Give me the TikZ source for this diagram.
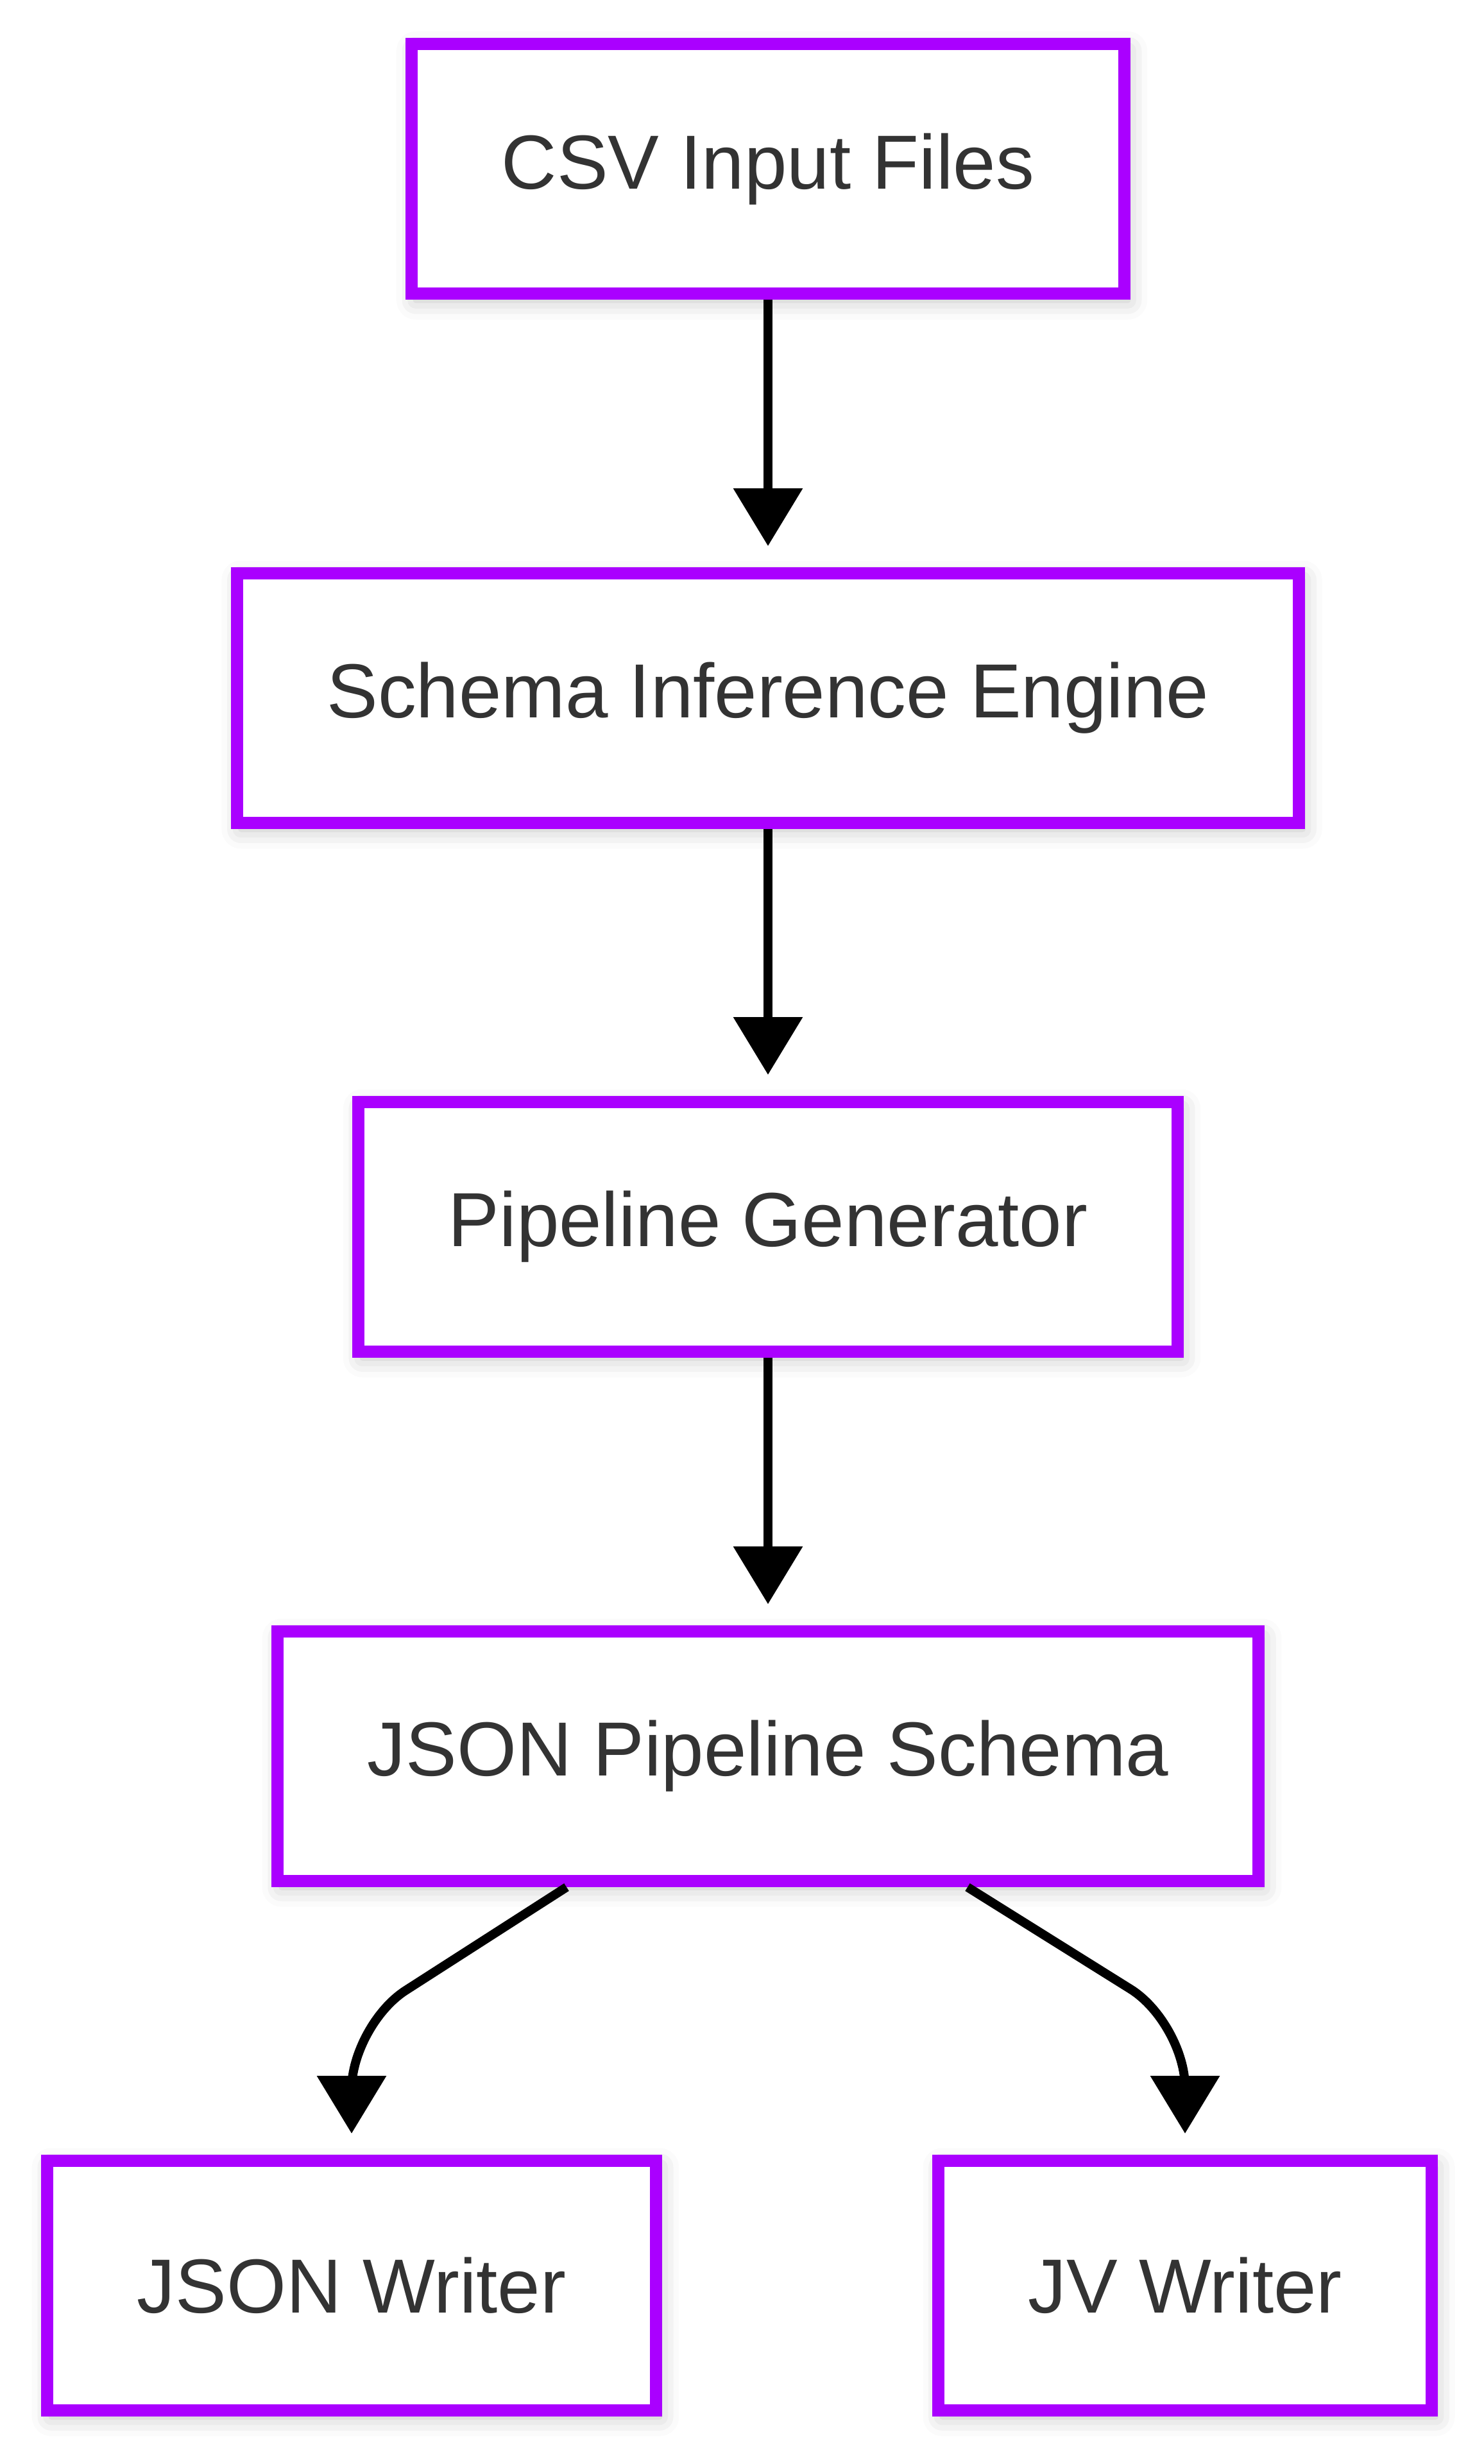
\documentclass[tikz,border=0pt]{standalone}
\usepackage{fontspec}
\setmainfont{Liberation Sans}
\usepackage{tikz}
\usetikzlibrary{arrows.meta,calc,positioning,shadows.blur}
\usepackage{xcolor}
\definecolor{boxpurple}{HTML}{AA00FF}
\definecolor{txtgray}{HTML}{333333}

\begin{document}
\begin{tikzpicture}[
    b/.style={rectangle,draw=boxpurple,fill=white,line width=1.9mm,text=txtgray,
      font=\fontsize{34}{40}\selectfont,inner xsep=14mm,minimum height=38.9mm,
      blur shadow={shadow xshift=.6mm,shadow yshift=-1mm,shadow blur radius=3mm,shadow opacity=25}},
    f/.style={-{Triangle[length=9mm,width=10.5mm]},line width=1.4mm,black,shorten >=3.3mm}
  ]
    \useasboundingbox (0,0) rectangle (23.13,-38.4);
    \node[b] (csv) at (11.97,-2.635) {CSV Input Files};
    \node[b] (infer) at (11.97,-10.88) {Schema Inference Engine};
    \node[b] (gen) at (11.97,-19.12) {Pipeline Generator};
    \node[b] (schema) at (11.97,-27.37) {JSON Pipeline Schema};
    \node[b] (jsonw) at (5.48,-35.62) {JSON Writer};
    \node[b] (jvw) at (18.47,-35.62) {JV Writer};
    \foreach \s/\t in {csv/infer,infer/gen,gen/schema} {\draw[f] (\s)--(\t);}
    % the two writers branch off the schema
    \coordinate (lbend) at (5.48,-31.56); \coordinate (rbend) at (18.47,-31.53);
    \draw[f,rounded corners=10mm] ([xshift=-31.4mm]schema.south) -- (lbend) -- (jsonw.north);
    \draw[f,rounded corners=10mm] ([xshift=31.1mm]schema.south) -- (rbend) -- (jvw.north);
  \end{tikzpicture}
\end{document}
